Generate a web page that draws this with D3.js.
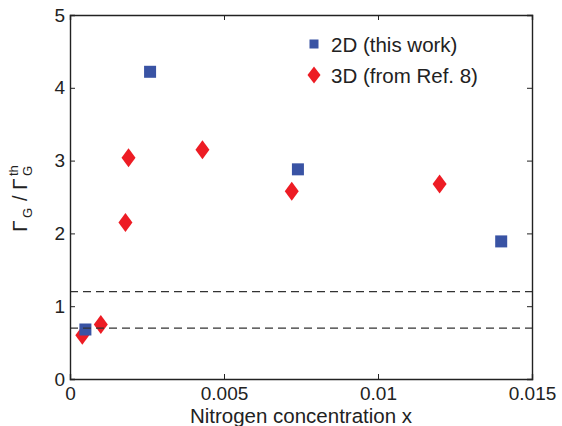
<!DOCTYPE html>
<html><head><meta charset="utf-8">
<script src="https://cdn.jsdelivr.net/npm/d3@7"></script>
<style>body{margin:0;background:#fff;} svg{display:block;} text{font-family:"Liberation Sans",Arial,sans-serif;fill:#222;}</style>
</head><body>
<svg id="chart" width="562" height="426"></svg>
<script>
const xTicks = [0, 0.005, 0.01, 0.015];
const xTickLabels = ["0", "0.005", "0.01", "0.015"];
const yTicks = [0, 1, 2, 3, 4, 5];
const series2DX = [0.0005, 0.0026, 0.0074, 0.0140];
const series2DY = [0.68, 4.22, 2.88, 1.89];
const series3DX = [0.0004, 0.0010, 0.0018, 0.0019, 0.0043, 0.0072, 0.0120];
const series3DY = [0.60, 0.75, 2.15, 3.04, 3.15, 2.58, 2.68];
const refLines = [1.2, 0.7];
const legendLabels = ["2D (this work)", "3D (from Ref. 8)"];

const L = 70, R = 532, T = 15, B = 379;
const svg = d3.select("#chart");
const x = d3.scaleLinear().domain([0, 0.015]).range([L, R]);
const y = d3.scaleLinear().domain([0, 5]).range([B, T]);
const blue = "#3953a4", red = "#ed1c24";

const diamond = (cx, cy, w, h) => `M${cx},${cy-h/2}L${cx+w/2},${cy}L${cx},${cy+h/2}L${cx-w/2},${cy}Z`;
svg.append("g").selectAll("path").data(series3DX.map((d,i)=>[d, series3DY[i]]))
  .join("path").attr("d", d => diamond(x(d[0]), y(d[1]), 14, 19)).attr("fill", red);
svg.append("g").selectAll("rect").data(series2DX.map((d,i)=>[d, series2DY[i]]))
  .join("rect").attr("x", d => x(d[0]) - 6).attr("y", d => y(d[1]) - 6)
  .attr("width", 12).attr("height", 12).attr("fill", blue);

svg.append("g").selectAll("line").data(refLines).join("line")
  .attr("x1", L).attr("x2", R).attr("y1", d => y(d)).attr("y2", d => y(d))
  .attr("stroke", "#333").attr("stroke-width", 1.3).attr("stroke-dasharray", "8,5");

const fmt = (d) => xTickLabels[xTicks.indexOf(d)];
const ax = svg.append("g").attr("transform", `translate(0,${B})`)
  .call(d3.axisBottom(x).tickValues(xTicks).tickFormat(fmt).tickSize(-5).tickPadding(8));
const ay = svg.append("g").attr("transform", `translate(${L},0)`)
  .call(d3.axisLeft(y).tickValues(yTicks).tickFormat(d3.format("d")).tickSize(-5).tickPadding(5));
const axT = svg.append("g").attr("transform", `translate(0,${T})`)
  .call(d3.axisTop(x).tickValues(xTicks).tickFormat("").tickSize(-5));
const ayR = svg.append("g").attr("transform", `translate(${R},0)`)
  .call(d3.axisRight(y).tickValues(yTicks).tickFormat("").tickSize(-5));
[ax, ay, axT, ayR].forEach(g => {
  g.select(".domain").attr("stroke", "#222").attr("stroke-width", 1.4);
  g.selectAll(".tick line").attr("stroke", "#222").attr("stroke-width", 1);
  g.selectAll(".tick text").attr("font-size", 19).attr("fill", "#222")
    .attr("font-family", "Liberation Sans, Arial, sans-serif");
});

svg.append("text").attr("x", (L + R) / 2).attr("y", 423).attr("text-anchor", "middle")
  .attr("font-size", 20.5).text("Nitrogen concentration x");

const yl = svg.append("text").attr("transform", "translate(27,232) rotate(-90)");
yl.append("tspan").attr("x", 0).attr("y", 0).attr("font-size", 21).text("Γ");
yl.append("tspan").attr("x", 14).attr("y", 5).attr("font-size", 13).text("G");
yl.append("tspan").attr("x", 31).attr("y", 0).attr("font-size", 20).text("/");
yl.append("tspan").attr("x", 42).attr("y", 0).attr("font-size", 21).text("Γ");
yl.append("tspan").attr("x", 56).attr("y", -9).attr("font-size", 13).text("th");
yl.append("tspan").attr("x", 56).attr("y", 5).attr("font-size", 13).text("G");

const lg = svg.append("g");
lg.append("rect").attr("x", 309.5).attr("y", 39.5).attr("width", 9).attr("height", 9).attr("fill", blue);
lg.append("text").attr("x", 331).attr("y", 52).attr("font-size", 20.5).text(legendLabels[0]);
lg.append("path").attr("d", diamond(314, 75, 13, 17)).attr("fill", red);
lg.append("text").attr("x", 331).attr("y", 83).attr("font-size", 20.5).text(legendLabels[1]);
</script>
</body></html>
